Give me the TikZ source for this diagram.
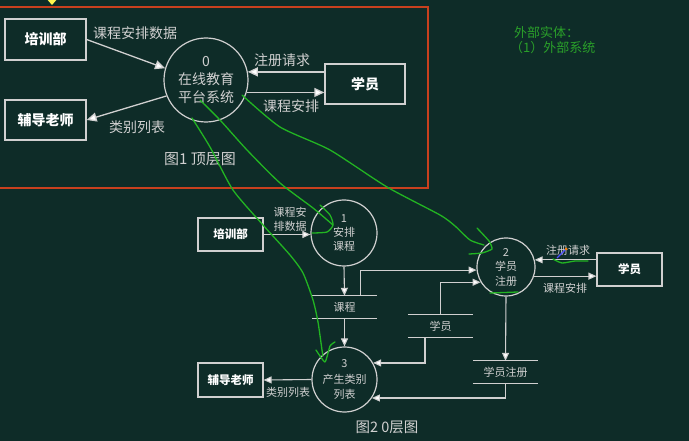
\documentclass[tikz,border=0pt]{standalone}
\usepackage{fontspec}
\setmainfont{Noto Sans CJK SC}
\usetikzlibrary{arrows.meta}
\definecolor{bgc}{HTML}{0E2C28}
\definecolor{linec}{HTML}{D0D0D0}
\definecolor{redc}{HTML}{C8401E}
\definecolor{grn}{HTML}{22B422}
\definecolor{gtext}{HTML}{2AA02A}
\tikzset{
  ebox/.style={draw=linec, line width=1.3pt, text=white, font=\fontsize{14}{16}\selectfont\bfseries, inner sep=0pt},
  ebox2/.style={ebox, line width=1.1pt, font=\fontsize{11.5}{14}\selectfont\bfseries},
  proc/.style={circle, draw=linec, line width=1.2pt, text=linec, align=center, inner sep=0pt},
  store/.style={text=linec, font=\fontsize{11}{13}\selectfont, inner sep=0pt},
  arr/.style={draw=linec, line width=1.3pt, -{Triangle[length=10pt,width=9pt,fill=white]}},
  arr2/.style={draw=linec, line width=1.1pt, -{Triangle[length=8pt,width=7pt,fill=white]}},
  lbl/.style={text=linec, font=\fontsize{14}{17}\selectfont, inner sep=0pt, align=center},
  lbl2/.style={text=linec, font=\fontsize{11}{14}\selectfont, inner sep=0pt, align=center},
  sline/.style={draw=linec, line width=1.1pt},
  gline/.style={draw=grn, line width=1.3pt, line cap=round, line join=round},
}
\begin{document}
\begin{tikzpicture}[x=1pt,y=-1pt]
\fill[bgc] (0,0) rectangle (689,441);
\useasboundingbox (0,0) rectangle (689,441);
% red frame and yellow marker
\draw[redc, line width=1.6pt] (-5,7) rectangle (428,188);
\fill[yellow!70!white] (45,-3) -- (52,5) -- (59,-3) -- cycle;
% ---------- top-level diagram ----------
\node[ebox, minimum width=81pt, minimum height=41pt] (px) at (45.5,39.5) {培训部};
\node[ebox, minimum width=81pt, minimum height=40pt] (fd) at (45.5,120) {辅导老师};
\node[proc, minimum size=84pt, font=\fontsize{14}{18}\selectfont] (c0) at (206,80) {0\\在线教育\\平台系统};
\node[ebox, minimum width=80pt, minimum height=40pt] (xy) at (365,84) {学员};
\draw[arr] (px.east) -- (c0.164);
\draw[arr] (c0.202) -- (fd.east);
\draw[arr] (xy.west |- c0.11) -- (c0.11);
\draw[arr] (c0.-17) -- (xy.west |- c0.-17);
\node[lbl] (l1) at (135,33) {课程安排数据};
\node[lbl] (l2) at (137,127) {类别列表};
\node[lbl] (l3) at (282,60) {注册请求};
\node[lbl] (l4) at (291,106) {课程安排};
\node[lbl, font=\fontsize{15}{17}\selectfont] (t1) at (200,159) {图1 顶层图};
% green note
\node[text=gtext, font=\fontsize{13}{15}\selectfont, anchor=west, inner sep=0pt] (g1) at (514,33) {外部实体：};
\node[text=gtext, font=\fontsize{13}{15}\selectfont, anchor=west, inner sep=0pt] (g2) at (510,48) {（1）外部系统};
% ---------- level-0 diagram ----------
\node[ebox2, minimum width=65pt, minimum height=33pt] (px2) at (230.5,234.5) {培训部};
\node[proc, minimum size=66pt, font=\fontsize{11}{14}\selectfont] (c1) at (344,233) {1\\安排\\课程};
\node[proc, minimum size=58pt, font=\fontsize{11}{14.5}\selectfont] (c2) at (506,267) {2\\学员\\注册};
\node[proc, minimum size=65pt, font=\fontsize{11}{15.5}\selectfont] (c3) at (344.5,379.5) {3\\产生类别\\列表};
\node[ebox2, minimum width=65pt, minimum height=33pt] (xy2) at (629.5,269.5) {学员};
\node[ebox2, minimum width=65pt, minimum height=34pt] (fd2) at (230.5,380) {辅导老师};
\node[store, minimum width=65pt, minimum height=22pt] (s1) at (344.5,307) {课程};
\node[store, minimum width=65pt, minimum height=22pt] (s2) at (440.5,326) {学员};
\node[store, minimum width=65pt, minimum height=22pt] (s3) at (505.5,372) {学员注册};
\foreach \s in {s1,s2,s3}{
  \draw[sline] (\s.north west) -- (\s.north east);
  \draw[sline] (\s.south west) -- (\s.south east);
}
\draw[arr2] (px2.east) -- (px2.east -| c1.west);
\draw[arr2] (c1.south) -- (s1.north);
\draw[arr2] (s1.south) -- (c3.north);
\draw[arr2] ([xshift=16pt]s1.north) |- (c2.186);
\draw[arr2] (s2.north) |- (c2.211);
\draw[arr2] ([xshift=-15.5pt]s2.south) |- (c3.30);
\draw[arr2] (c2.south) -- (s3.north);
\draw[arr2] (s3.south) |- (c3.-34);
\draw[arr2] (xy2.west |- c2.14) -- (c2.14);
\draw[arr2] (c2.-18) -- (xy2.west |- c2.-18);
\draw[arr2] (c3.west) -- (fd2.east);
\node[lbl2] (m1) at (290,219) {课程安\\排数据};
\node[lbl2] (m2) at (568,250) {注册请求};
\node[lbl2] (m3) at (565,288) {课程安排};
\node[lbl2] (m4) at (288,392) {类别列表};
\node[lbl, font=\fontsize{14.5}{17}\selectfont] (t2) at (387,427) {图2 0层图};
% ---------- green hand annotations ----------
\draw[gline] plot[smooth, tension=0.4] coordinates {(192,118) (210,147) (233,190) (263,225) (290,255) (303,273) (313,300) (318,322) (322,350) (323,356)};
\draw[gline] plot[smooth, tension=0.3] coordinates {(316,350) (325,362) (330,346) (335,342)};
\draw[gline] plot[smooth, tension=0.4] coordinates {(200,100) (220,120) (247,150) (280,183) (313,208) (333,225)};
\draw[gline] plot[smooth, tension=0.4] coordinates {(320,205) (330,215) (333,225) (327,232) (312,233)};
\draw[gline] plot[smooth, tension=0.4] coordinates {(242,95) (280,127) (330,150) (387,187) (440,215) (455,226) (470,240) (484,245)};
\draw[gline] plot[smooth, tension=0.3] coordinates {(477,228) (489,241) (492,249) (482,253) (469,254)};
\draw[gline] plot[smooth, tension=0.4] coordinates {(553,259) (562,263) (575,261) (588,261)};
\draw[gline] (490,293) -- (518,292);
\draw[blue!70!white, line width=1.2pt] (557,258) -- (566,249);
\fill[orange] (566,249) circle (1.5pt);
\end{tikzpicture}
\end{document}
